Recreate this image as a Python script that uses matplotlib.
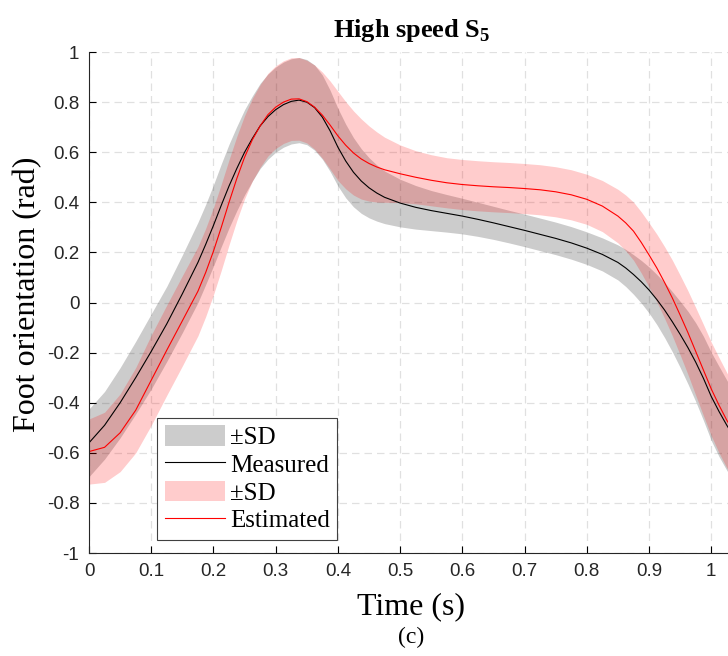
import matplotlib
matplotlib.use('Agg')
import matplotlib.pyplot as plt
from matplotlib.patches import Patch
from matplotlib.lines import Line2D
from matplotlib.ticker import FuncFormatter
import numpy as np

plt.rcParams['axes.unicode_minus'] = False
plt.rcParams['mathtext.fontset'] = 'custom'
plt.rcParams['mathtext.rm'] = 'Liberation Serif:bold'

SERIF = 'Liberation Serif'
SANS = 'Liberation Sans'

# time samples (s), denser where the curves bend
time = [0.000, 0.025, 0.050, 0.075, 0.100, 0.125, 0.150, 0.175, 0.1875, 0.200,
        0.2125, 0.225, 0.2375, 0.250, 0.2625, 0.275, 0.2875, 0.300, 0.3125, 0.325,
        0.3375, 0.350, 0.3625, 0.375, 0.3875, 0.400, 0.4125, 0.425, 0.4375, 0.450,
        0.4625, 0.475, 0.500, 0.525, 0.550, 0.575, 0.600, 0.625, 0.650, 0.675,
        0.700, 0.725, 0.750, 0.775, 0.800, 0.825, 0.850, 0.8625, 0.875, 0.8875,
        0.900, 0.9125, 0.925, 0.9375, 0.950, 0.9625, 0.975, 0.9875, 1.000, 1.0125,
        1.025, 1.0375, 1.050]

# measured foot orientation (rad)
measured = [-0.560, -0.490, -0.400, -0.300, -0.195, -0.085, 0.035, 0.160, 0.232, 0.308,
            0.388, 0.465, 0.535, 0.600, 0.655, 0.705, 0.742, 0.770, 0.790, 0.803,
            0.808, 0.800, 0.778, 0.740, 0.685, 0.620, 0.565, 0.520, 0.485, 0.458,
            0.437, 0.420, 0.397, 0.380, 0.367, 0.356, 0.345, 0.332, 0.318, 0.303,
            0.288, 0.272, 0.256, 0.238, 0.217, 0.192, 0.160, 0.138, 0.112, 0.083,
            0.050, 0.012, -0.030, -0.077, -0.127, -0.180, -0.238, -0.303, -0.375, -0.435,
            -0.490, -0.540, -0.580]
measured_sd = [0.135, 0.135, 0.140, 0.145, 0.150, 0.150, 0.155, 0.160, 0.160, 0.162,
               0.165, 0.167, 0.168, 0.170, 0.170, 0.170, 0.170, 0.170, 0.170, 0.170,
               0.170, 0.170, 0.170, 0.168, 0.162, 0.155, 0.147, 0.138, 0.129, 0.120,
               0.112, 0.105, 0.095, 0.087, 0.080, 0.075, 0.071, 0.068, 0.066, 0.065,
               0.065, 0.065, 0.065, 0.065, 0.065, 0.066, 0.070, 0.074, 0.079, 0.085,
               0.092, 0.100, 0.110, 0.120, 0.132, 0.145, 0.157, 0.168, 0.176, 0.180,
               0.180, 0.178, 0.175]

# estimated foot orientation (rad)
estimated = [-0.595, -0.578, -0.520, -0.430, -0.310, -0.190, -0.073, 0.045, 0.120, 0.205,
             0.300, 0.400, 0.495, 0.580, 0.650, 0.705, 0.750, 0.780, 0.800, 0.812,
             0.813, 0.802, 0.780, 0.748, 0.708, 0.665, 0.628, 0.597, 0.573, 0.555,
             0.541, 0.530, 0.514, 0.500, 0.488, 0.478, 0.471, 0.466, 0.462, 0.459,
             0.455, 0.450, 0.442, 0.430, 0.412, 0.385, 0.345, 0.318, 0.285, 0.240,
             0.190, 0.138, 0.080, 0.018, -0.050, -0.120, -0.195, -0.270, -0.345, -0.410,
             -0.470, -0.520, -0.560]
estimated_sd = [0.130, 0.140, 0.155, 0.170, 0.180, 0.180, 0.180, 0.178, 0.176, 0.174,
                0.172, 0.170, 0.168, 0.166, 0.165, 0.165, 0.165, 0.165, 0.165, 0.165,
                0.165, 0.165, 0.168, 0.172, 0.176, 0.178, 0.174, 0.168, 0.160, 0.150,
                0.140, 0.130, 0.115, 0.106, 0.102, 0.100, 0.100, 0.100, 0.100, 0.100,
                0.100, 0.100, 0.100, 0.100, 0.100, 0.102, 0.107, 0.111, 0.116, 0.122,
                0.128, 0.135, 0.143, 0.151, 0.159, 0.167, 0.175, 0.182, 0.187, 0.190,
                0.190, 0.188, 0.185]

legend_labels = ['\u00b1SD', 'Measured', '\u00b1SD', 'Estimated']

t = np.array(time)
m = np.array(measured)
ms = np.array(measured_sd)
e = np.array(estimated)
es = np.array(estimated_sd)

fig = plt.figure(figsize=(7.28, 6.56), dpi=100)
ax = fig.add_axes([0.1223, 0.157, 0.8846, 0.7637])

ax.fill_between(t, m - ms, m + ms, color='k', alpha=0.2, lw=0)
ax.plot(t, m, color='k', lw=0.8)
ax.fill_between(t, e - es, e + es, color='r', alpha=0.2, lw=0)
ax.plot(t, e, color='r', lw=0.8)

ax.set_xlim(0, 1.035)
ax.set_ylim(-1, 1)
ax.set_xticks(np.arange(0, 1.01, 0.1))
ax.set_yticks(np.arange(-1, 1.01, 0.2))
fmt = FuncFormatter(lambda v, p: '%g' % (round(v, 2) + 0.0))
ax.xaxis.set_major_formatter(fmt)
ax.yaxis.set_major_formatter(fmt)
ax.tick_params(direction='in', length=5, width=0.8, labelsize=13.5, pad=7)
for lab in ax.get_xticklabels() + ax.get_yticklabels():
    lab.set_fontfamily(SANS)
    lab.set_color('#262626')

ax.grid(True, linestyle=(0, (6, 4)), color='#e0e0e0', lw=0.9)
ax.set_axisbelow(True)
for s in ['top', 'right']:
    ax.spines[s].set_visible(False)
for s in ['left', 'bottom']:
    ax.spines[s].set_linewidth(0.8)
    ax.spines[s].set_color('#262626')

handles = [Patch(facecolor='k', alpha=0.2, lw=0),
           Line2D([], [], color='k', lw=0.8),
           Patch(facecolor='r', alpha=0.2, lw=0),
           Line2D([], [], color='r', lw=0.8)]
leg = ax.legend(handles, legend_labels, loc='lower left', bbox_to_anchor=(0.106, 0.026),
                borderaxespad=0, fancybox=False, framealpha=1, edgecolor='#404040',
                prop={'family': SERIF, 'size': 18}, handlelength=2.4, handleheight=0.9,
                handletextpad=0.2, labelspacing=0.15, borderpad=0.3)
leg.get_frame().set_linewidth(0.8)

fig.text(412 / 728, 1 - 30 / 656, r'High speed S$_{5}$', ha='center', va='center',
         family=SERIF, fontweight='bold', fontsize=19)
fig.text(411 / 728, 1 - 607 / 656, 'Time (s)', ha='center', va='center',
         family=SERIF, fontsize=23)
fig.text(411 / 728, 1 - 637 / 656, '(c)', ha='center', va='center',
         family=SERIF, fontsize=17)
fig.text(28 / 728, 1 - 294 / 656, 'Foot orientation (rad)', ha='center', va='center',
         rotation=90, family=SERIF, fontsize=23)

fig.savefig('out.png', dpi=100)
